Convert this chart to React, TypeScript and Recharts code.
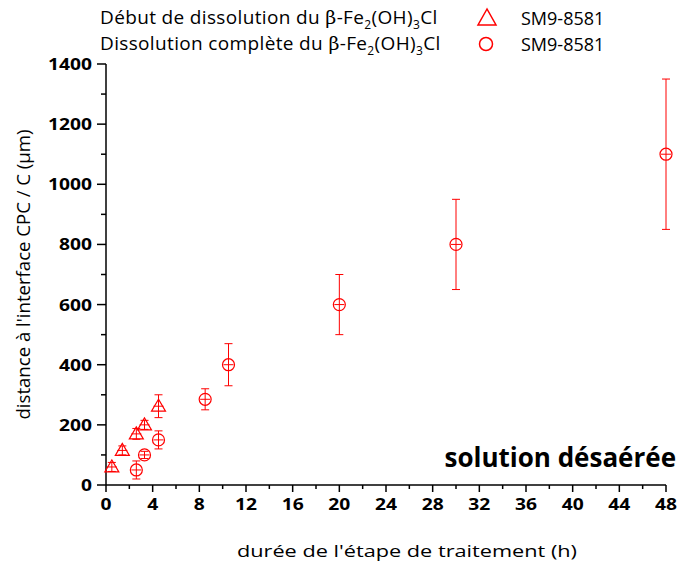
import * as React from "react";
import { ScatterChart, Scatter, XAxis, YAxis, ErrorBar, Legend } from "recharts";

// ----- data -----
const startHours = [0.5, 1.4, 2.6, 3.3, 4.5];
const startDepth = [60, 115, 170, 200, 262];
const startErr = [15, 15, 18, 15, 38];

const fullHours = [2.6, 3.3, 4.5, 8.5, 10.5, 20, 30, 48];
const fullDepth = [50, 100, 150, 285, 400, 600, 800, 1100];
const fullErr = [30, 12, 30, 35, 70, 100, 150, 250];

const xTicks = [0, 2, 4, 6, 8, 10, 12, 14, 16, 18, 20, 22, 24, 26, 28, 30, 32, 34, 36, 38, 40, 42, 44, 46, 48];
const xLabels = [0, 4, 8, 12, 16, 20, 24, 28, 32, 36, 40, 44, 48];
const yTicks = [0, 100, 200, 300, 400, 500, 600, 700, 800, 900, 1000, 1100, 1200, 1300, 1400];
const yLabels = [0, 200, 400, 600, 800, 1000, 1200, 1400];

const sampleName = "SM9-8581";

const startData = startHours.map((x, i) => ({ x, y: startDepth[i], err: startErr[i] }));
const fullData = fullHours.map((x, i) => ({ x, y: fullDepth[i], err: fullErr[i] }));

const RED = "#ff0000";
const FONT = "'Open Sans', sans-serif";

const Triangle = (props: any) => {
  const { cx, cy } = props;
  return (
    <g>
      <polygon points={`${cx},${cy - 7} ${cx - 7},${cy + 5} ${cx + 7},${cy + 5}`} fill="none" stroke={RED} strokeWidth={1.2} />
      <line x1={cx - 5} y1={cy} x2={cx + 5} y2={cy} stroke={RED} strokeWidth={1} />
    </g>
  );
};

const Circle = (props: any) => {
  const { cx, cy } = props;
  return (
    <g>
      <circle cx={cx} cy={cy} r={6} fill="none" stroke={RED} strokeWidth={1.2} />
      <line x1={cx - 5} y1={cy} x2={cx + 5} y2={cy} stroke={RED} strokeWidth={1} />
    </g>
  );
};

// digits in the figure are drawn wider than the font, so stretch them to about 11px each
const TickText = ({ x, y, anchor, value }: { x: number; y: number; anchor: string; value: number }) => (
  <text
    x={x}
    y={y}
    textAnchor={anchor}
    fontFamily={FONT}
    fontWeight="bold"
    fontSize={16}
    fill="#000"
    textLength={String(value).length * 11}
    lengthAdjust="spacingAndGlyphs"
  >
    {value}
  </text>
);

const XTick = (props: any) => {
  const { x, y, payload } = props;
  const major = xLabels.includes(payload.value);
  return (
    <g>
      <line x1={x} y1={y} x2={x} y2={y + (major ? 7 : 4)} stroke="#000" strokeWidth={1.5} />
      {major && <TickText x={x} y={y + 25} anchor="middle" value={payload.value} />}
    </g>
  );
};

const YTick = (props: any) => {
  const { x, y, payload } = props;
  const major = yLabels.includes(payload.value);
  return (
    <g>
      <line x1={x - (major ? 9 : 5)} y1={y} x2={x} y2={y} stroke="#000" strokeWidth={1.5} />
      {major && <TickText x={x - 14} y={y + 6} anchor="end" value={payload.value} />}
    </g>
  );
};

const Phase = ({ label }: { label: string }) => (
  <span style={{ letterSpacing: 0.35 }}>
    {label} du <span style={{ fontFamily: "'DejaVu Serif', serif" }}>β</span>-Fe<sub style={{ fontSize: 12 }}>2</sub>(OH)
    <sub style={{ fontSize: 12 }}>3</sub>Cl
  </span>
);

const LegendBox = () => {
  const row = (top: number, label: string, symbol: React.ReactNode) => (
    <div style={{ position: "absolute", top, left: 0, width: 678, height: 26 }}>
      <div style={{ position: "absolute", left: 100, top: 0, whiteSpace: "nowrap", fontSize: 19 }}>
        <Phase label={label} />
      </div>
      <svg style={{ position: "absolute", left: 476, top: 1 }} width={24} height={24}>
        {symbol}
      </svg>
      <div style={{ position: "absolute", left: 521, top: 1 }}>{sampleName}</div>
    </div>
  );
  return (
    <div style={{ position: "relative", width: 678, height: 60, fontFamily: FONT, fontSize: 18, lineHeight: "24px", color: "#000" }}>
      {row(5, "Début de dissolution", <polygon points="11,3 2,19 20,19" fill="none" stroke={RED} strokeWidth={1.5} />)}
      {row(31, "Dissolution complète", <circle cx={10} cy={12} r={6.5} fill="none" stroke={RED} strokeWidth={1.5} />)}
    </div>
  );
};

export default function App() {
  return (
    <div style={{ position: "absolute", left: 0, top: 0, width: 678, height: 567, background: "#fff" }}>
      <ScatterChart width={678} height={567} margin={{ top: 64, right: 12, bottom: 0, left: 0 }}>
        <XAxis
          type="number"
          dataKey="x"
          domain={[0, 48]}
          ticks={xTicks}
          interval={0}
          height={82}
          tickSize={0}
          tickMargin={0}
          tickLine={false}
          tick={<XTick />}
          axisLine={{ stroke: "#000", strokeWidth: 1.5 }}
          label={{
            content: (p: any) => (
              <text
                x={p.viewBox.x + p.viewBox.width / 2 + 21}
                y={p.viewBox.y + 72}
                textAnchor="middle"
                fontFamily={FONT}
                fontSize={17}
                fill="#000"
                textLength={340}
                lengthAdjust="spacingAndGlyphs"
              >
                durée de l'étape de traitement (h)
              </text>
            ),
          }}
        />
        <YAxis
          type="number"
          dataKey="y"
          domain={[0, 1400]}
          ticks={yTicks}
          interval={0}
          width={106}
          tickSize={0}
          tickMargin={0}
          tickLine={false}
          tick={<YTick />}
          axisLine={{ stroke: "#000", strokeWidth: 1.5 }}
          label={{
            content: (p: any) => {
              const cx = p.viewBox.x + 30;
              const cy = p.viewBox.y + p.viewBox.height / 2;
              return (
                <text
                  x={cx}
                  y={cy}
                  transform={`rotate(-90 ${cx} ${cy})`}
                  textAnchor="middle"
                  fontFamily={FONT}
                  fontSize={18}
                  fill="#000"
                  textLength={290}
                  lengthAdjust="spacingAndGlyphs"
                >
                  distance à l'interface CPC / C (µm)
                </text>
              );
            },
          }}
        />
        <Legend
          layout="vertical"
          verticalAlign="middle"
          align="center"
          wrapperStyle={{ top: 0, left: 0, width: 678 }}
          content={() => <LegendBox />}
        />
        <Scatter name="Début" data={startData} shape={<Triangle />} isAnimationActive={false}>
          <ErrorBar dataKey="err" direction="y" width={4} stroke={RED} strokeWidth={1} isAnimationActive={false} />
        </Scatter>
        <Scatter name="Complète" data={fullData} shape={<Circle />} isAnimationActive={false}>
          <ErrorBar dataKey="err" direction="y" width={4} stroke={RED} strokeWidth={1} isAnimationActive={false} />
        </Scatter>
      </ScatterChart>
      <div
        style={{
          position: "absolute",
          right: 2,
          top: 439,
          fontFamily: FONT,
          fontWeight: "bold",
          fontSize: 26,
          lineHeight: "36px",
          color: "#000",
          whiteSpace: "nowrap",
        }}
      >
        solution désaérée
      </div>
    </div>
  );
}
